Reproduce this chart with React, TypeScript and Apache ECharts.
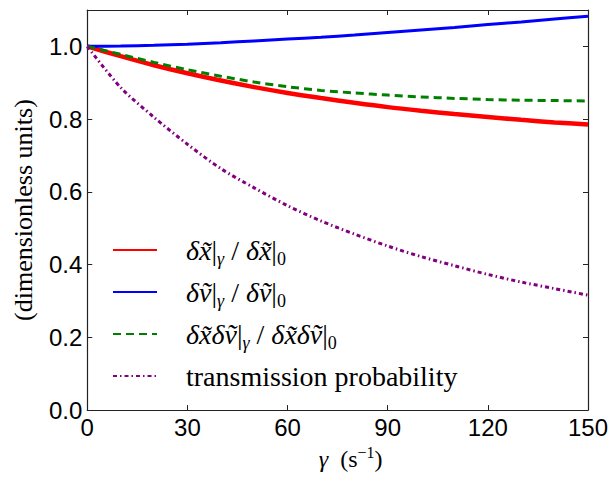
import React, { useEffect, useRef } from "react";
import * as echarts from "echarts";

const gamma = [0, 10, 20, 30, 40, 50, 60, 70, 80, 90, 100, 110, 120, 130, 140, 150];
const dxRatio = [1.0, 0.973, 0.948, 0.926, 0.906, 0.888, 0.872, 0.858, 0.845, 0.833, 0.823, 0.814, 0.806, 0.798, 0.791, 0.785];
const dvRatio = [1.0, 1.001, 1.003, 1.006, 1.01, 1.015, 1.02, 1.025, 1.031, 1.038, 1.045, 1.052, 1.06, 1.067, 1.075, 1.083];
const dxdvRatio = [1.0, 0.978, 0.956, 0.936, 0.918, 0.902, 0.889, 0.879, 0.872, 0.866, 0.861, 0.857, 0.854, 0.852, 0.851, 0.85];
const transmission = [1.0, 0.887, 0.805, 0.731, 0.664, 0.611, 0.562, 0.52, 0.484, 0.451, 0.422, 0.397, 0.373, 0.352, 0.334, 0.316];

const xTicks = { min: 0, max: 150, interval: 30 };
const yTicks = { min: 0, max: 1.1, interval: 0.2 };

const seriesNames = ["dx", "dv", "dxdv", "transmission probability"];
const legendLabels: Record<string, string> = {
  dx: "{i|δx\u0303}|{sg|γ} / {i|δx\u0303}|{s0|0}",
  dv: "{i|δv\u0303}|{sg|γ} / {i|δv\u0303}|{s0|0}",
  dxdv: "{i|δx\u0303δv\u0303}|{sg|γ} / {i|δx\u0303δv\u0303}|{s0|0}",
  "transmission probability": "transmission probability",
};

const serif = "Liberation Serif";
const sans = "Liberation Sans";

export default function App() {
  const ref = useRef<HTMLDivElement>(null);
  useEffect(() => {
    if (!ref.current) return;
    const chart = echarts.init(ref.current, null, { renderer: "svg" });
    const pairs = (ys: number[]) => gamma.map((g, i) => [g, ys[i]]);
    const frameLine = { show: true, onZero: false, lineStyle: { color: "#222", width: 1.2 } };
    const tick = { show: true, inside: true, length: 5, lineStyle: { color: "#222", width: 1 } };
    chart.setOption({
      animation: false,
      backgroundColor: "#fff",
      grid: { left: 79, right: 23, top: 10, bottom: 59, containLabel: false },
      legend: {
        orient: "vertical",
        left: 112,
        top: 232,
        padding: 0,
        itemWidth: 44,
        itemHeight: 6,
        itemGap: 6,
        data: seriesNames,
        itemStyle: { color: "rgba(0,0,0,0)", borderColor: "rgba(0,0,0,0)", borderWidth: 0 },
        formatter: (name: string) => legendLabels[name],
        textStyle: {
          fontFamily: serif,
          fontSize: 28,
          lineHeight: 36,
          color: "#000",
          padding: [0, 0, 0, 24],
          rich: {
            i: { fontFamily: serif, fontSize: 28, fontStyle: "italic", lineHeight: 36, color: "#000" },
            sg: { fontFamily: serif, fontSize: 18, fontStyle: "italic", lineHeight: 23, verticalAlign: "bottom", color: "#000" },
            s0: { fontFamily: serif, fontSize: 18, lineHeight: 23, verticalAlign: "bottom", color: "#000" },
          },
        },
      },
      xAxis: [
        {
          type: "value",
          position: "bottom",
          ...xTicks,
          axisLine: frameLine,
          axisTick: tick,
          splitLine: { show: false },
          axisLabel: { fontFamily: sans, fontSize: 24, color: "#000", margin: 5 },
          name: "{g|γ}  (s{sup|−1})",
          nameLocation: "middle",
          nameGap: 29,
          nameTextStyle: {
            fontFamily: serif,
            fontSize: 24,
            lineHeight: 30,
            color: "#000",
            padding: [0, 0, 0, 26],
            rich: {
              g: { fontFamily: serif, fontSize: 24, fontStyle: "italic", lineHeight: 30, color: "#000" },
              sup: { fontFamily: serif, fontSize: 16, lineHeight: 22, verticalAlign: "top", color: "#000" },
            },
          },
        },
        {
          type: "value",
          position: "top",
          ...xTicks,
          axisLine: frameLine,
          axisTick: tick,
          splitLine: { show: false },
          axisLabel: { show: false },
        },
      ],
      yAxis: [
        {
          type: "value",
          position: "left",
          ...yTicks,
          axisLine: frameLine,
          axisTick: tick,
          splitLine: { show: false },
          axisLabel: {
            fontFamily: sans,
            fontSize: 24,
            color: "#000",
            margin: 5,
            showMaxLabel: false,
            formatter: (v: number) => v.toFixed(1),
          },
          name: "(dimensionless units)",
          nameLocation: "middle",
          nameGap: 38,
          nameTextStyle: { fontFamily: serif, fontSize: 26, lineHeight: 30, color: "#000" },
        },
        {
          type: "value",
          position: "right",
          ...yTicks,
          axisLine: frameLine,
          axisTick: tick,
          splitLine: { show: false },
          axisLabel: { show: false },
        },
      ],
      series: [
        {
          name: seriesNames[0],
          type: "line",
          data: pairs(dxRatio),
          symbol: "none",
          smooth: 0.3,
          lineStyle: { color: "#ff0000", width: 4.5 },
          itemStyle: { color: "#ff0000" },
          z: 3,
        },
        {
          name: seriesNames[1],
          type: "line",
          data: pairs(dvRatio),
          symbol: "none",
          smooth: 0.3,
          lineStyle: { color: "#0000ff", width: 3 },
          itemStyle: { color: "#0000ff" },
          z: 4,
        },
        {
          name: seriesNames[2],
          type: "line",
          data: pairs(dxdvRatio),
          symbol: "none",
          smooth: 0.3,
          lineStyle: { color: "#008000", width: 3, type: [8, 5] },
          itemStyle: { color: "#008000" },
          z: 5,
        },
        {
          name: seriesNames[3],
          type: "line",
          data: pairs(transmission),
          symbol: "none",
          smooth: 0.3,
          lineStyle: { color: "#800080", width: 3, type: [4, 3, 1.5, 3] },
          itemStyle: { color: "#800080" },
          z: 6,
        },
      ],
    });
    return () => chart.dispose();
  }, []);
  return (
    <div
      ref={ref}
      style={{ position: "fixed", left: 0, top: 0, width: 611, height: 479 }}
    />
  );
}
